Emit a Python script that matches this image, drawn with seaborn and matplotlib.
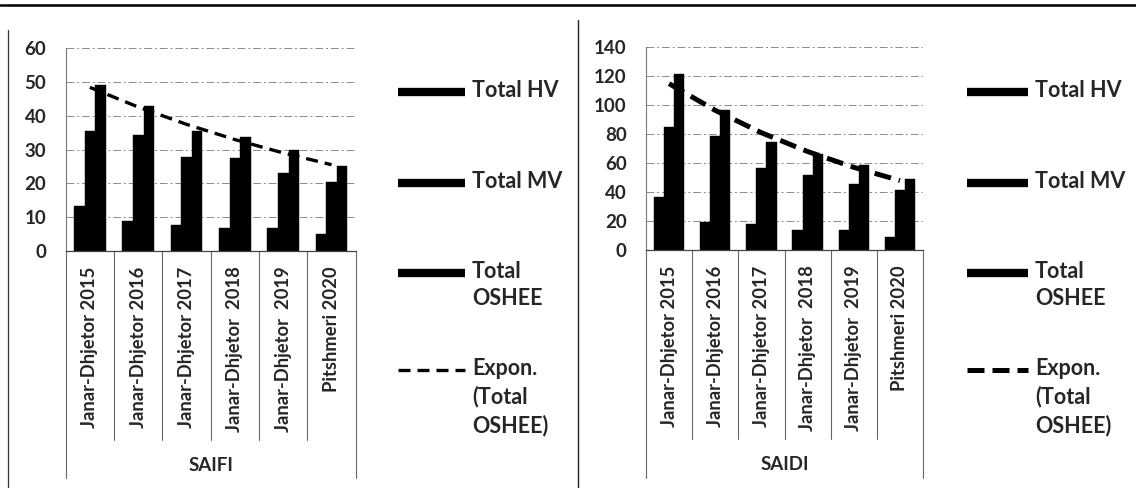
import matplotlib
matplotlib.use("Agg")
import matplotlib.pyplot as plt
from matplotlib.lines import Line2D
import seaborn as sns
import numpy as np
import pandas as pd

sns.set_style("white")
plt.rcParams['font.family'] = ['Lato', 'DejaVu Sans']

categories = ["Janar-Dhjetor 2015", "Janar-Dhjetor 2016", "Janar-Dhjetor 2017",
              "Janar-Dhjetor  2018", "Janar-Dhjetor  2019", "Pitshmeri 2020"]
series_names = ["Total HV", "Total MV", "Total OSHEE"]
legend_labels = ["Total HV", "Total MV", "Total\nOSHEE", "Expon.\n(Total\nOSHEE)"]

saifi_hv = [13.4, 9.0, 7.7, 6.7, 6.7, 5.0]
saifi_mv = [35.4, 34.3, 27.8, 27.4, 23.2, 20.3]
saifi_oshee = [49.0, 42.8, 35.4, 33.7, 30.0, 25.0]

saidi_hv = [36.5, 19.4, 17.8, 13.7, 13.7, 8.7]
saidi_mv = [84.5, 78.3, 56.6, 51.6, 45.2, 41.3]
saidi_oshee = [121.0, 96.1, 74.2, 66.4, 58.4, 49.1]

saifi_ticks = [0, 10, 20, 30, 40, 50, 60]
saidi_ticks = [0, 20, 40, 60, 80, 100, 120, 140]

fs = 13.2
W, H = 1136, 488


def long_frame(hv, mv, oshee):
    rows = []
    for name, vals in zip(series_names, [hv, mv, oshee]):
        for c, v in zip(categories, vals):
            rows.append({"Periudha": c, "Seria": name, "Vlera": v})
    return pd.DataFrame(rows)


def px(x, y):
    # pixel position (from top-left) -> figure fraction
    return x / W, 1 - y / H


def draw_legend(fig, x0, x1, lw, dash):
    # entries laid out like the Excel legend: handle beside the first text line
    rows = [92, 183, 273, 370]
    for i, (lab, y) in enumerate(zip(legend_labels, rows)):
        a, yy = px(x0, y)
        b, _ = px(x1, y)
        if i < 3:
            ln = Line2D([a, b], [yy, yy], color="black", lw=6, solid_capstyle="butt")
        else:
            ln = Line2D([a, b], [yy, yy], color="black", lw=lw, linestyle=(0, dash))
        fig.add_artist(ln)
        tx, ty = px(x1 + 7, y - 12)
        fig.text(tx, ty, lab, fontsize=15.5, va="top", ha="left",
                 linespacing=1.38, fontweight="bold")


def draw_panel(fig, rect, hv, mv, oshee, ticks, group, lw, dash):
    ax = fig.add_axes(rect)
    df = long_frame(hv, mv, oshee)
    sns.barplot(data=df, x="Periudha", y="Vlera", hue="Seria", order=categories,
                hue_order=series_names, palette=["black"] * 3, width=0.66, gap=0,
                legend=False, ax=ax, saturation=1, edgecolor="black", linewidth=0.3)

    # Excel-style exponential trendline of Total OSHEE
    xs = np.arange(1, len(oshee) + 1)
    b, a = np.polyfit(xs, np.log(oshee), 1)
    trend = np.exp(a + b * xs)
    ax.plot(np.arange(len(oshee)), trend, color="black", lw=lw,
            linestyle=(0, dash), zorder=5)

    ax.set_xlim(-0.5, len(categories) - 0.5)
    ax.set_ylim(ticks[0], ticks[-1])
    ax.set_yticks(ticks)
    ax.set_yticklabels([str(t) for t in ticks], fontweight="bold", fontsize=13.5)
    ax.set_xticks(range(len(categories)))
    ax.set_xticklabels(categories, fontweight="bold", fontsize=fs, rotation=90)
    ax.yaxis.grid(True, color="#8c8c8c", lw=0.7, linestyle=(0, (8, 3, 2, 3)))
    ax.set_axisbelow(True)
    for s in ["top", "right"]:
        ax.spines[s].set_visible(False)
    ax.spines["left"].set_color("#777777")
    ax.spines["left"].set_linewidth(0.8)
    ax.spines["bottom"].set_color("#444444")
    ax.spines["bottom"].set_linewidth(0.9)
    ax.tick_params(axis="y", length=0, pad=14)
    ax.tick_params(axis="x", length=0, pad=11)
    ax.set_ylabel("")
    ax.set_xlabel(group, fontsize=13.5, labelpad=18, fontweight="bold")

    # multi-level category separators
    tr = ax.get_xaxis_transform()
    n = len(categories)
    for i in range(n + 1):
        bottom = -1.12 if i in (0, n) else -0.93
        ax.plot([i - 0.5, i - 0.5], [0, bottom], transform=tr, color="#666666",
                lw=0.8, clip_on=False)
    return ax


fig = plt.figure(figsize=(W / 100, H / 100), dpi=100)

draw_panel(fig, [65.7 / W, 1 - 251 / H, 290 / W, 203 / H],
           saifi_hv, saifi_mv, saifi_oshee, saifi_ticks, "SAIFI",
           2.4, (3.6, 2.1))
draw_legend(fig, 398, 465, 2.4, (3.6, 2.1))

draw_panel(fig, [646 / W, 1 - 250 / H, 277 / W, 203.3 / H],
           saidi_hv, saidi_mv, saidi_oshee, saidi_ticks, "SAIDI",
           3.6, (3.4, 1.6))
draw_legend(fig, 967, 1028, 3.6, (3.4, 1.6))

# frame lines of the scanned page
fig.add_artist(Line2D([0, 1], [1 - 5 / H, 1 - 5 / H], color="black", lw=1.8))
fig.add_artist(Line2D([8 / W, 8 / W], [0, 1 - 30 / H], color="#333333", lw=0.9))
fig.add_artist(Line2D([578 / W, 578 / W], [0, 1 - 20 / H], color="#222222", lw=1.0))

fig.savefig("out.png", dpi=100)
